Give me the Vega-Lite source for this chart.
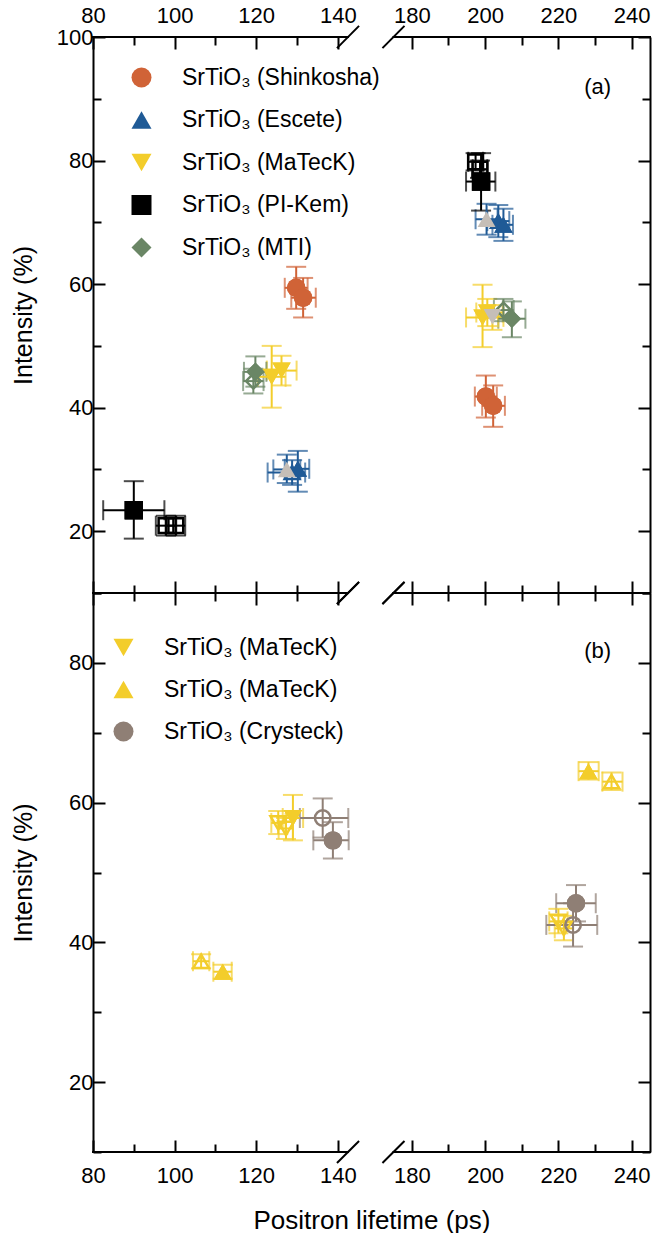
{
  "$schema": "https://vega.github.io/schema/vega-lite/v6.json",
  "padding": {"left": 11, "top": 0, "right": 0, "bottom": 0},
  "background": "white",
  "spacing": 0,
  "bounds": "flush",
  "resolve": {"scale": {"color": "independent", "shape": "independent"}, "legend": {"color": "independent", "shape": "independent"}},
  "config": {
    "font": "Liberation Sans",
    "view": {"stroke": null},
    "axis": {
      "labelFont": "Liberation Sans", "labelFontSize": 22, "labelColor": "black",
      "titleFont": "Liberation Sans", "titleFontSize": 25, "titleFontWeight": "normal", "titleColor": "black",
      "domainColor": "black", "domainWidth": 2, "tickColor": "black", "tickWidth": 2,
      "grid": false, "labelFlush": false, "labelOverlap": false
    },
    "text": {"font": "Liberation Sans"}
  },
  "datasets": {
    "seg": [{"x1": 80, "x2": 142.5}, {"x1": 175, "x2": 245}],
    "slash": [{"x1": 139.8, "x2": 150.4}, {"x1": 167.1, "x2": 178.0}],
    "pa": [
      {"s": "Shinkosha", "t": "f", "x": 129.8, "xlo": 127, "xhi": 132.6, "y": 59.4, "ylo": 56, "yhi": 62.8},
      {"s": "Shinkosha", "t": "f", "x": 131.5, "xlo": 128.6, "xhi": 134.6, "y": 57.8, "ylo": 54.6, "yhi": 61},
      {"s": "Shinkosha", "t": "f", "x": 200.2, "xlo": 197.2, "xhi": 203.2, "y": 41.8, "ylo": 38.4, "yhi": 45.2},
      {"s": "Shinkosha", "t": "f", "x": 202.2, "xlo": 199.2, "xhi": 205.4, "y": 40.3, "ylo": 36.9, "yhi": 43.6},
      {"s": "Escete", "t": "o", "x": 128.8, "xlo": 122.8, "xhi": 132, "y": 29.5, "ylo": 27.5, "yhi": 31.5},
      {"s": "Escete", "t": "g", "x": 127.5, "xlo": 124.2, "xhi": 130.8, "y": 30, "ylo": 27.8, "yhi": 32.4},
      {"s": "Escete", "t": "f", "x": 130.2, "xlo": 127, "xhi": 133, "y": 30.1, "ylo": 26.4, "yhi": 33},
      {"s": "Escete", "t": "g", "x": 200.4, "xlo": 197.4, "xhi": 203.4, "y": 70.5, "ylo": 68, "yhi": 73},
      {"s": "Escete", "t": "f", "x": 203.6, "xlo": 200.6, "xhi": 206.6, "y": 70.2, "ylo": 67.6, "yhi": 72.8},
      {"s": "Escete", "t": "f", "x": 205, "xlo": 202, "xhi": 207.6, "y": 69.6, "ylo": 67, "yhi": 72.2},
      {"s": "MaTecK", "t": "f", "x": 123.8, "xlo": 120.4, "xhi": 127.2, "y": 45, "ylo": 40, "yhi": 50},
      {"s": "MaTecK", "t": "f", "x": 126.2, "xlo": 122.6, "xhi": 129.9, "y": 46, "ylo": 43.6, "yhi": 48.4},
      {"s": "MaTecK", "t": "f", "x": 199.3, "xlo": 194.8, "xhi": 203.6, "y": 54.6, "ylo": 49.8, "yhi": 59.9},
      {"s": "MaTecK", "t": "f", "x": 200.6, "xlo": 197.6, "xhi": 204.8, "y": 55.4, "ylo": 53.2, "yhi": 57.6},
      {"s": "MaTecK", "t": "g", "x": 202, "xlo": 199.2, "xhi": 205, "y": 54.7, "ylo": 52.6, "yhi": 56.6},
      {"s": "PI-Kem", "t": "f", "x": 90, "xlo": 82.5, "xhi": 97.5, "y": 23.4, "ylo": 18.8, "yhi": 28.1},
      {"s": "PI-Kem", "t": "o", "x": 97.9, "xlo": 95.4, "xhi": 100.4, "y": 20.9, "ylo": 19.3, "yhi": 22.5},
      {"s": "PI-Kem", "t": "o", "x": 100.3, "xlo": 97.8, "xhi": 102.6, "y": 20.9, "ylo": 19.3, "yhi": 22.5},
      {"s": "PI-Kem", "t": "f", "x": 198.9, "xlo": 194.8, "xhi": 202.8, "y": 76.6, "ylo": 71.9, "yhi": 81.2},
      {"s": "PI-Kem", "t": "o", "x": 197.4, "xlo": 195.4, "xhi": 199.4, "y": 79.8, "ylo": 78.4, "yhi": 81.2},
      {"s": "PI-Kem", "t": "o", "x": 198.6, "xlo": 196.6, "xhi": 200.6, "y": 78.6, "ylo": 77.2, "yhi": 80},
      {"s": "MTI", "t": "o", "x": 119.3, "xlo": 116.8, "xhi": 121.8, "y": 44.3, "ylo": 42.3, "yhi": 46.3},
      {"s": "MTI", "t": "f", "x": 119.8, "xlo": 117, "xhi": 122.5, "y": 45.8, "ylo": 43.4, "yhi": 48.3},
      {"s": "MTI", "t": "o", "x": 205, "xlo": 202.4, "xhi": 207.8, "y": 55.8, "ylo": 54, "yhi": 57.6},
      {"s": "MTI", "t": "f", "x": 207.3, "xlo": 203.6, "xhi": 211, "y": 54.4, "ylo": 51.4, "yhi": 57.2}
    ],
    "pb": [
      {"s": "MaTecK", "t": "o", "x": 125.4, "xlo": 123.7, "xhi": 127.2, "y": 57.1, "ylo": 55.5, "yhi": 58.8},
      {"s": "MaTecK", "t": "o", "x": 127.3, "xlo": 125.5, "xhi": 129, "y": 56.3, "ylo": 54.8, "yhi": 57.8},
      {"s": "MaTecK", "t": "f", "x": 129, "xlo": 126.5, "xhi": 131.5, "y": 57.8, "ylo": 54.6, "yhi": 61.1},
      {"s": "MaTecK", "t": "o", "x": 220, "xlo": 217.5, "xhi": 222.5, "y": 43, "ylo": 41.3, "yhi": 44.8},
      {"s": "MaTecK", "t": "o", "x": 221.5, "xlo": 219, "xhi": 224, "y": 42, "ylo": 40.3, "yhi": 43.8},
      {"s": "MaTecK ", "t": "o", "x": 106.5, "xlo": 104.5, "xhi": 108.5, "y": 37.3, "ylo": 36.3, "yhi": 38.3},
      {"s": "MaTecK ", "t": "f", "x": 111.8, "xlo": 109.5, "xhi": 114, "y": 35.8, "ylo": 34.8, "yhi": 36.8},
      {"s": "MaTecK ", "t": "f", "x": 228.2, "xlo": 225.5, "xhi": 231, "y": 64.5, "ylo": 63.3, "yhi": 65.8},
      {"s": "MaTecK ", "t": "o", "x": 234.5, "xlo": 232, "xhi": 237.5, "y": 63, "ylo": 61.8, "yhi": 64.3},
      {"s": "Crysteck", "t": "o", "x": 136.3, "xlo": 130.7, "xhi": 142.7, "y": 57.8, "ylo": 55, "yhi": 60.6},
      {"s": "Crysteck", "t": "f", "x": 138.8, "xlo": 134, "xhi": 143, "y": 54.6, "ylo": 52, "yhi": 57.2},
      {"s": "Crysteck", "t": "f", "x": 224.8, "xlo": 219.4, "xhi": 230.2, "y": 45.6, "ylo": 43, "yhi": 48.2},
      {"s": "Crysteck", "t": "o", "x": 224, "xlo": 216.7, "xhi": 230.6, "y": 42.5, "ylo": 39.4, "yhi": 45.6}
    ]
  },
  "vconcat": [
    {
      "width": 557,
      "height": 556,
      "resolve": {"axis": {"x": "independent", "y": "independent"}},
      "layer": [
        {
          "data": {"name": "seg"},
          "mark": {"type": "rule", "strokeWidth": 2, "color": "black", "strokeCap": "square"},
          "encoding": {
            "x": {"field": "x1", "type": "quantitative", "scale": {"domain": [80, 142.5, 175, 245], "range": [0, 255, 300.5, 557], "zero": false, "nice": false},
              "axis": {"orient": "top", "values": [80, 90, 100, 110, 120, 130, 140, 180, 190, 200, 210, 220, 230, 240], "labelExpr": "datum.value % 20 === 0 ? datum.label : ''", "tickSize": {"condition": {"test": "datum.value % 20 === 0", "value": -12}, "value": -8}, "domain": false, "title": null, "labelPadding": 22}},
            "x2": {"field": "x2"},
            "y": {"datum": 100, "type": "quantitative", "scale": {"domain": [10, 100], "zero": false, "nice": false},
              "axis": {"orient": "left", "values": [10, 20, 30, 40, 50, 60, 70, 80, 90, 100], "labelExpr": "datum.value % 20 === 0 ? datum.label : ''", "tickSize": {"condition": {"test": "datum.value % 20 === 0", "value": -12}, "value": -8}, "title": "Intensity (%)", "titlePadding": 15, "minExtent": 42, "maxExtent": 42, "labelPadding": 12}}
          }
        },
        {
          "data": {"name": "seg"},
          "mark": {"type": "rule", "strokeWidth": 2, "color": "black", "strokeCap": "square"},
          "encoding": {
            "x": {"field": "x1", "type": "quantitative", "scale": {"domain": [80, 142.5, 175, 245], "range": [0, 255, 300.5, 557], "zero": false, "nice": false},
              "axis": {"orient": "bottom", "values": [80, 90, 100, 110, 120, 130, 140, 180, 190, 200, 210, 220, 230, 240], "labels": false, "tickSize": {"condition": {"test": "datum.value % 20 === 0", "value": -12}, "value": -8}, "domain": false, "title": null}},
            "x2": {"field": "x2"},
            "y": {"datum": 10, "type": "quantitative", "scale": {"domain": [10, 100], "zero": false, "nice": false},
              "axis": {"orient": "right", "values": [10, 20, 30, 40, 50, 60, 70, 80, 90, 100], "labels": false, "tickSize": {"condition": {"test": "datum.value % 20 === 0", "value": -12}, "value": -8}, "title": null}}
          }
        },
        {
          "data": {"name": "slash"},
          "mark": {"type": "rule", "strokeWidth": 2, "color": "black"},
          "encoding": {
            "x": {"field": "x1", "type": "quantitative", "scale": {"domain": [80, 142.5, 175, 245], "range": [0, 255, 300.5, 557], "zero": false, "nice": false}, "axis": null},
            "x2": {"field": "x2"},
            "y": {"datum": 98.2, "type": "quantitative", "scale": {"domain": [10, 100], "zero": false, "nice": false}, "axis": null},
            "y2": {"datum": 101.8}
          }
        },
        {
          "data": {"name": "slash"},
          "mark": {"type": "rule", "strokeWidth": 2, "color": "black"},
          "encoding": {
            "x": {"field": "x1", "type": "quantitative", "scale": {"domain": [80, 142.5, 175, 245], "range": [0, 255, 300.5, 557], "zero": false, "nice": false}, "axis": null},
            "x2": {"field": "x2"},
            "y": {"datum": 8.2, "type": "quantitative", "scale": {"domain": [10, 100], "zero": false, "nice": false}, "axis": null},
            "y2": {"datum": 11.8}
          }
        },
        {
          "data": {"name": "pa"},
          "transform": [{"filter": "datum.t === 'f'"}],
          "mark": {"type": "point", "filled": true, "size": 340, "opacity": 1},
          "encoding": {
            "x": {"field": "x", "type": "quantitative", "scale": {"domain": [80, 142.5, 175, 245], "range": [0, 255, 300.5, 557], "zero": false, "nice": false}, "axis": null},
            "y": {"field": "y", "type": "quantitative", "scale": {"domain": [10, 100], "zero": false, "nice": false}, "axis": null},
            "color": {"field": "s", "type": "nominal", "scale": {"domain": ["Shinkosha", "Escete", "MaTecK", "PI-Kem", "MTI"], "range": ["#D06337", "#1F5A96", "#F3CD2B", "#000000", "#6A8665"]},
              "legend": {"orient": "none", "legendX": 37, "legendY": 29, "direction": "vertical", "title": null, "symbolSize": 400, "symbolStrokeWidth": 0, "symbolOpacity": 1, "labelFont": "Liberation Sans", "labelFontSize": 23, "labelLimit": 0, "labelColor": "black", "labelOffset": 29, "rowPadding": 18.5, "padding": 0, "labelExpr": "'SrTiO₃ (' + trim(datum.label) + ')'"}},
            "shape": {"field": "s", "type": "nominal", "scale": {"domain": ["Shinkosha", "Escete", "MaTecK", "PI-Kem", "MTI"], "range": ["circle", "triangle-up", "triangle-down", "square", "diamond"]},
              "legend": {"orient": "none", "legendX": 37, "legendY": 29, "direction": "vertical", "title": null, "symbolSize": 400, "symbolStrokeWidth": 0, "symbolOpacity": 1, "labelFont": "Liberation Sans", "labelFontSize": 23, "labelLimit": 0, "labelColor": "black", "labelOffset": 29, "rowPadding": 18.5, "padding": 0, "labelExpr": "'SrTiO₃ (' + trim(datum.label) + ')'"}}
          }
        },
        {
          "data": {"name": "pa"},
          "mark": {"type": "errorbar", "ticks": true, "size": 20, "thickness": 2},
          "encoding": {
            "x": {"field": "xlo", "type": "quantitative", "scale": {"domain": [80, 142.5, 175, 245], "range": [0, 255, 300.5, 557], "zero": false, "nice": false}, "axis": null},
            "x2": {"field": "xhi"},
            "y": {"field": "y", "type": "quantitative", "scale": {"domain": [10, 100], "zero": false, "nice": false}, "axis": null},
            "color": {"field": "s", "type": "nominal", "scale": {"domain": ["Shinkosha", "Escete", "MaTecK", "PI-Kem", "MTI"], "range": ["#D06337", "#1F5A96", "#F3CD2B", "#000000", "#6A8665"]}, "legend": null},
            "detail": {"field": "x", "type": "quantitative"}
          }
        },
        {
          "data": {"name": "pa"},
          "mark": {"type": "errorbar", "ticks": true, "size": 20, "thickness": 2},
          "encoding": {
            "y": {"field": "ylo", "type": "quantitative", "scale": {"domain": [10, 100], "zero": false, "nice": false}, "axis": null},
            "y2": {"field": "yhi"},
            "x": {"field": "x", "type": "quantitative", "scale": {"domain": [80, 142.5, 175, 245], "range": [0, 255, 300.5, 557], "zero": false, "nice": false}, "axis": null},
            "color": {"field": "s", "type": "nominal", "scale": {"domain": ["Shinkosha", "Escete", "MaTecK", "PI-Kem", "MTI"], "range": ["#D06337", "#1F5A96", "#F3CD2B", "#000000", "#6A8665"]}, "legend": null},
            "detail": {"field": "y", "type": "quantitative"}
          }
        },
        {
          "data": {"name": "pa"},
          "transform": [{"filter": "datum.t === 'o'"}],
          "mark": {"type": "point", "filled": false, "size": 220, "strokeWidth": 2.5, "opacity": 1},
          "encoding": {
            "x": {"field": "x", "type": "quantitative", "scale": {"domain": [80, 142.5, 175, 245], "range": [0, 255, 300.5, 557], "zero": false, "nice": false}, "axis": null},
            "y": {"field": "y", "type": "quantitative", "scale": {"domain": [10, 100], "zero": false, "nice": false}, "axis": null},
            "color": {"field": "s", "type": "nominal", "scale": {"domain": ["Shinkosha", "Escete", "MaTecK", "PI-Kem", "MTI"], "range": ["#D06337", "#1F5A96", "#F3CD2B", "#000000", "#6A8665"]}, "legend": null},
            "shape": {"field": "s", "type": "nominal", "scale": {"domain": ["Shinkosha", "Escete", "MaTecK", "PI-Kem", "MTI"], "range": ["circle", "triangle-up", "triangle-down", "square", "diamond"]}, "legend": null}
          }
        },
        {
          "data": {"name": "pa"},
          "transform": [{"filter": "datum.t === 'f'"}],
          "mark": {"type": "point", "filled": true, "size": 340, "opacity": 1},
          "encoding": {
            "x": {"field": "x", "type": "quantitative", "scale": {"domain": [80, 142.5, 175, 245], "range": [0, 255, 300.5, 557], "zero": false, "nice": false}, "axis": null},
            "y": {"field": "y", "type": "quantitative", "scale": {"domain": [10, 100], "zero": false, "nice": false}, "axis": null},
            "color": {"field": "s", "type": "nominal", "scale": {"domain": ["Shinkosha", "Escete", "MaTecK", "PI-Kem", "MTI"], "range": ["#D06337", "#1F5A96", "#F3CD2B", "#000000", "#6A8665"]}, "legend": null},
            "shape": {"field": "s", "type": "nominal", "scale": {"domain": ["Shinkosha", "Escete", "MaTecK", "PI-Kem", "MTI"], "range": ["circle", "triangle-up", "triangle-down", "square", "diamond"]}, "legend": null}
          }
        },
        {
          "data": {"name": "pa"},
          "transform": [{"filter": "datum.t === 'g'"}],
          "mark": {"type": "point", "filled": true, "size": 320, "opacity": 1, "color": "#C5BEB7"},
          "encoding": {
            "x": {"field": "x", "type": "quantitative", "scale": {"domain": [80, 142.5, 175, 245], "range": [0, 255, 300.5, 557], "zero": false, "nice": false}, "axis": null},
            "y": {"field": "y", "type": "quantitative", "scale": {"domain": [10, 100], "zero": false, "nice": false}, "axis": null},
            "shape": {"field": "s", "type": "nominal", "scale": {"domain": ["Shinkosha", "Escete", "MaTecK", "PI-Kem", "MTI"], "range": ["circle", "triangle-up", "triangle-down", "square", "diamond"]}, "legend": null}
          }
        },
        {
          "data": {"values": [{"lab": "(a)"}]},
          "mark": {"type": "text", "fontSize": 22, "color": "black", "align": "center", "baseline": "middle"},
          "encoding": {
            "x": {"datum": 230.7, "type": "quantitative", "scale": {"domain": [80, 142.5, 175, 245], "range": [0, 255, 300.5, 557], "zero": false, "nice": false}, "axis": null},
            "y": {"datum": 91.9, "type": "quantitative", "scale": {"domain": [10, 100], "zero": false, "nice": false}, "axis": null},
            "text": {"field": "lab"}
          }
        }
      ]
    },
    {
      "width": 557,
      "height": 559,
      "resolve": {"axis": {"x": "independent", "y": "independent"}},
      "layer": [
        {
          "data": {"name": "seg"},
          "mark": {"type": "rule", "strokeWidth": 2, "color": "black", "strokeCap": "square"},
          "encoding": {
            "x": {"field": "x1", "type": "quantitative", "scale": {"domain": [80, 142.5, 175, 245], "range": [0, 255, 300.5, 557], "zero": false, "nice": false},
              "axis": {"orient": "top", "values": [80, 90, 100, 110, 120, 130, 140, 180, 190, 200, 210, 220, 230, 240], "labels": false, "tickSize": {"condition": {"test": "datum.value % 20 === 0", "value": -12}, "value": -8}, "domain": false, "title": null}},
            "x2": {"field": "x2"},
            "y": {"datum": 90, "type": "quantitative", "scale": {"domain": [10, 90], "zero": false, "nice": false},
              "axis": {"orient": "left", "values": [10, 20, 30, 40, 50, 60, 70, 80, 90], "labelExpr": "datum.value % 20 === 0 ? datum.label : ''", "tickSize": {"condition": {"test": "datum.value % 20 === 0", "value": -12}, "value": -8}, "title": "Intensity (%)", "titlePadding": 15, "minExtent": 42, "maxExtent": 42, "labelPadding": 12}}
          }
        },
        {
          "data": {"name": "seg"},
          "mark": {"type": "rule", "strokeWidth": 2, "color": "black", "strokeCap": "square"},
          "encoding": {
            "x": {"field": "x1", "type": "quantitative", "scale": {"domain": [80, 142.5, 175, 245], "range": [0, 255, 300.5, 557], "zero": false, "nice": false},
              "axis": {"orient": "bottom", "values": [80, 90, 100, 110, 120, 130, 140, 180, 190, 200, 210, 220, 230, 240], "labelExpr": "datum.value % 20 === 0 ? datum.label : ''", "tickSize": {"condition": {"test": "datum.value % 20 === 0", "value": -12}, "value": -8}, "domain": false, "title": "Positron lifetime (ps)", "titleFontSize": 26, "titlePadding": 17, "labelPadding": 25}},
            "x2": {"field": "x2"},
            "y": {"datum": 10, "type": "quantitative", "scale": {"domain": [10, 90], "zero": false, "nice": false},
              "axis": {"orient": "right", "values": [10, 20, 30, 40, 50, 60, 70, 80, 90], "labels": false, "tickSize": {"condition": {"test": "datum.value % 20 === 0", "value": -12}, "value": -8}, "title": null}}
          }
        },
        {
          "data": {"name": "slash"},
          "mark": {"type": "rule", "strokeWidth": 2, "color": "black"},
          "encoding": {
            "x": {"field": "x1", "type": "quantitative", "scale": {"domain": [80, 142.5, 175, 245], "range": [0, 255, 300.5, 557], "zero": false, "nice": false}, "axis": null},
            "x2": {"field": "x2"},
            "y": {"datum": 88.43, "type": "quantitative", "scale": {"domain": [10, 90], "zero": false, "nice": false}, "axis": null},
            "y2": {"datum": 91.57}
          }
        },
        {
          "data": {"name": "slash"},
          "mark": {"type": "rule", "strokeWidth": 2, "color": "black"},
          "encoding": {
            "x": {"field": "x1", "type": "quantitative", "scale": {"domain": [80, 142.5, 175, 245], "range": [0, 255, 300.5, 557], "zero": false, "nice": false}, "axis": null},
            "x2": {"field": "x2"},
            "y": {"datum": 8.43, "type": "quantitative", "scale": {"domain": [10, 90], "zero": false, "nice": false}, "axis": null},
            "y2": {"datum": 11.57}
          }
        },
        {
          "data": {"name": "pb"},
          "transform": [{"filter": "datum.t === 'f'"}],
          "mark": {"type": "point", "filled": true, "size": 340, "opacity": 1},
          "encoding": {
            "x": {"field": "x", "type": "quantitative", "scale": {"domain": [80, 142.5, 175, 245], "range": [0, 255, 300.5, 557], "zero": false, "nice": false}, "axis": null},
            "y": {"field": "y", "type": "quantitative", "scale": {"domain": [10, 90], "zero": false, "nice": false}, "axis": null},
            "color": {"field": "s", "type": "nominal", "scale": {"domain": ["MaTecK", "MaTecK ", "Crysteck"], "range": ["#F3CD2B", "#F3CD2B", "#8F7F75"]},
              "legend": {"orient": "none", "legendX": 19, "legendY": 43, "direction": "vertical", "title": null, "symbolSize": 400, "symbolStrokeWidth": 0, "symbolOpacity": 1, "labelFont": "Liberation Sans", "labelFontSize": 23, "labelLimit": 0, "labelColor": "black", "labelOffset": 29, "rowPadding": 18, "padding": 0, "labelExpr": "'SrTiO₃ (' + trim(datum.label) + ')'"}},
            "shape": {"field": "s", "type": "nominal", "scale": {"domain": ["MaTecK", "MaTecK ", "Crysteck"], "range": ["triangle-down", "triangle-up", "circle"]},
              "legend": {"orient": "none", "legendX": 19, "legendY": 43, "direction": "vertical", "title": null, "symbolSize": 400, "symbolStrokeWidth": 0, "symbolOpacity": 1, "labelFont": "Liberation Sans", "labelFontSize": 23, "labelLimit": 0, "labelColor": "black", "labelOffset": 29, "rowPadding": 18, "padding": 0, "labelExpr": "'SrTiO₃ (' + trim(datum.label) + ')'"}}
          }
        },
        {
          "data": {"name": "pb"},
          "mark": {"type": "errorbar", "ticks": true, "size": 20, "thickness": 2},
          "encoding": {
            "x": {"field": "xlo", "type": "quantitative", "scale": {"domain": [80, 142.5, 175, 245], "range": [0, 255, 300.5, 557], "zero": false, "nice": false}, "axis": null},
            "x2": {"field": "xhi"},
            "y": {"field": "y", "type": "quantitative", "scale": {"domain": [10, 90], "zero": false, "nice": false}, "axis": null},
            "color": {"field": "s", "type": "nominal", "scale": {"domain": ["MaTecK", "MaTecK ", "Crysteck"], "range": ["#F3CD2B", "#F3CD2B", "#8F7F75"]}, "legend": null},
            "detail": {"field": "x", "type": "quantitative"}
          }
        },
        {
          "data": {"name": "pb"},
          "mark": {"type": "errorbar", "ticks": true, "size": 20, "thickness": 2},
          "encoding": {
            "y": {"field": "ylo", "type": "quantitative", "scale": {"domain": [10, 90], "zero": false, "nice": false}, "axis": null},
            "y2": {"field": "yhi"},
            "x": {"field": "x", "type": "quantitative", "scale": {"domain": [80, 142.5, 175, 245], "range": [0, 255, 300.5, 557], "zero": false, "nice": false}, "axis": null},
            "color": {"field": "s", "type": "nominal", "scale": {"domain": ["MaTecK", "MaTecK ", "Crysteck"], "range": ["#F3CD2B", "#F3CD2B", "#8F7F75"]}, "legend": null},
            "detail": {"field": "y", "type": "quantitative"}
          }
        },
        {
          "data": {"name": "pb"},
          "transform": [{"filter": "datum.t === 'o'"}],
          "mark": {"type": "point", "filled": false, "size": 240, "strokeWidth": 2.5, "opacity": 1},
          "encoding": {
            "x": {"field": "x", "type": "quantitative", "scale": {"domain": [80, 142.5, 175, 245], "range": [0, 255, 300.5, 557], "zero": false, "nice": false}, "axis": null},
            "y": {"field": "y", "type": "quantitative", "scale": {"domain": [10, 90], "zero": false, "nice": false}, "axis": null},
            "color": {"field": "s", "type": "nominal", "scale": {"domain": ["MaTecK", "MaTecK ", "Crysteck"], "range": ["#F3CD2B", "#F3CD2B", "#8F7F75"]}, "legend": null},
            "shape": {"field": "s", "type": "nominal", "scale": {"domain": ["MaTecK", "MaTecK ", "Crysteck"], "range": ["triangle-down", "triangle-up", "circle"]}, "legend": null}
          }
        },
        {
          "data": {"name": "pb"},
          "transform": [{"filter": "datum.t === 'f'"}],
          "mark": {"type": "point", "filled": true, "size": 340, "opacity": 1},
          "encoding": {
            "x": {"field": "x", "type": "quantitative", "scale": {"domain": [80, 142.5, 175, 245], "range": [0, 255, 300.5, 557], "zero": false, "nice": false}, "axis": null},
            "y": {"field": "y", "type": "quantitative", "scale": {"domain": [10, 90], "zero": false, "nice": false}, "axis": null},
            "color": {"field": "s", "type": "nominal", "scale": {"domain": ["MaTecK", "MaTecK ", "Crysteck"], "range": ["#F3CD2B", "#F3CD2B", "#8F7F75"]}, "legend": null},
            "shape": {"field": "s", "type": "nominal", "scale": {"domain": ["MaTecK", "MaTecK ", "Crysteck"], "range": ["triangle-down", "triangle-up", "circle"]}, "legend": null}
          }
        },
        {
          "data": {"values": [{"lab": "(b)"}]},
          "mark": {"type": "text", "fontSize": 22, "color": "black", "align": "center", "baseline": "middle"},
          "encoding": {
            "x": {"datum": 230.7, "type": "quantitative", "scale": {"domain": [80, 142.5, 175, 245], "range": [0, 255, 300.5, 557], "zero": false, "nice": false}, "axis": null},
            "y": {"datum": 81.7, "type": "quantitative", "scale": {"domain": [10, 90], "zero": false, "nice": false}, "axis": null},
            "text": {"field": "lab"}
          }
        }
      ]
    }
  ]
}
